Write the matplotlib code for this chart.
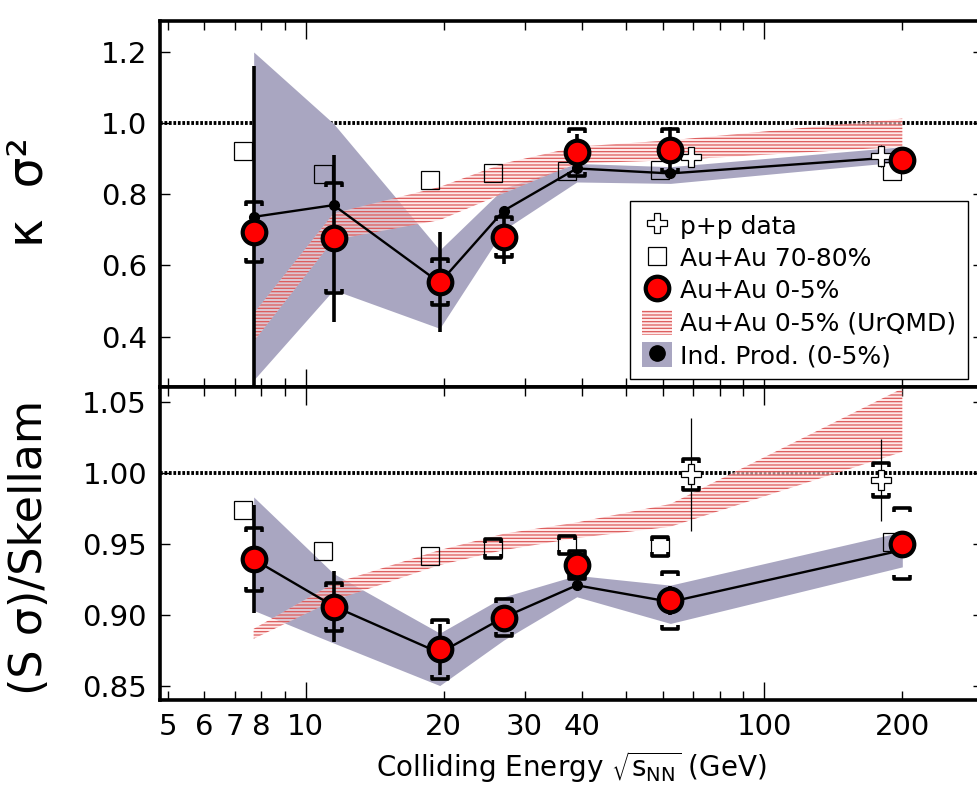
import matplotlib
matplotlib.use("Agg")
import matplotlib.pyplot as plt
from matplotlib.ticker import FixedLocator, FuncFormatter
from matplotlib.lines import Line2D
from matplotlib.patches import Patch
from matplotlib.path import Path
import numpy as np

plt.rcParams['font.family'] = ['DejaVu Sans']
plt.rcParams['hatch.linewidth'] = 0.9

# ---------------- data ----------------
energy = [7.7, 11.5, 19.6, 27, 39, 62.4, 200]
xtick_labels = [5, 6, 7, 8, 10, 20, 30, 40, 100, 200]

# kappa sigma^2 (top panel)
kurt_central = [0.693, 0.676, 0.553, 0.680, 0.918, 0.923, 0.897]
kurt_central_stat = [0.466, 0.235, 0.140, 0.075, 0.050, 0.066, 0.010]
kurt_central_sys = [0.084, 0.155, 0.064, 0.056, 0.066, 0.060, 0.000]
kurt_periph = [0.921, 0.855, 0.839, 0.858, 0.865, 0.867, 0.865]
kurt_indprod = [0.736, 0.769, 0.551, 0.753, 0.872, 0.858, 0.905]
kurt_indprod_lo = [0.278, 0.531, 0.423, 0.699, 0.834, 0.830, 0.891]
kurt_indprod_hi = [1.199, 0.998, 0.643, 0.816, 0.886, 0.877, 0.933]
kurt_urqmd_lo = [0.386, 0.671, 0.727, 0.802, 0.886, 0.895, 0.933]
kurt_urqmd_hi = [0.465, 0.746, 0.820, 0.886, 0.933, 0.951, 1.012]
pp_energy = [62.4, 200]
kurt_pp = [0.905, 0.907]
kurt_pp_stat = [0.010, 0.030]

# S sigma / Skellam (bottom panel)
skel_central = [0.939, 0.9055, 0.8755, 0.8977, 0.935, 0.910, 0.950]
skel_central_stat = [0.038, 0.025, 0.018, 0.008, 0.005, 0.010, 0.008]
skel_central_sys = [0.022, 0.017, 0.021, 0.013, 0.010, 0.020, 0.025]
skel_periph = [0.974, 0.945, 0.9415, 0.9467, 0.949, 0.948, 0.9514]
skel_periph_sys = [0.0, 0.0, 0.0, 0.0065, 0.0065, 0.0065, 0.0]
skel_indprod = [0.939, 0.906, 0.873, 0.898, 0.9207, 0.909, 0.9455]
skel_indprod_lo = [0.903, 0.880, 0.850, 0.882, 0.9126, 0.8938, 0.9337]
skel_indprod_hi = [0.983, 0.929, 0.887, 0.9125, 0.9277, 0.9208, 0.9584]
skel_urqmd_lo = [0.883, 0.910, 0.935, 0.9455, 0.9540, 0.962, 1.0148]
skel_urqmd_hi = [0.890, 0.922, 0.9455, 0.957, 0.9650, 0.978, 1.0595]
skel_pp = [0.999, 0.9948]
skel_pp_stat = [0.040, 0.029]
skel_pp_sys = [0.011, 0.012]

# ---------------- style ----------------
GRAY = '#a9a6c1'
URQ_FACE = (1.0, 0.86, 0.86, 0.6)
URQ_HATCH = '#dc5a5a'
periph_shift = 0.95
pp_shift = [1.11, 0.90]

up_br = Path([(-1, -0.55), (-1, 0), (1, 0), (1, -0.55)],
             [Path.MOVETO, Path.LINETO, Path.LINETO, Path.LINETO])
lo_br = Path([(-1, 0.55), (-1, 0), (1, 0), (1, 0.55)],
             [Path.MOVETO, Path.LINETO, Path.LINETO, Path.LINETO])

fig = plt.figure(figsize=(9.77, 7.94), dpi=100)
ax1 = fig.add_axes([0.1633, 0.5120, 0.8429, 0.4620])
ax2 = fig.add_axes([0.1633, 0.1180, 0.8429, 0.3940])


def brackets(ax, x, y, s, ms=11, z=6):
    x = np.asarray(x); y = np.asarray(y); s = np.asarray(s)
    m = s > 0
    ax.plot(x[m], (y + s)[m], ls='none', marker=up_br, ms=ms, mfc='none',
            mec='k', mew=2.6, zorder=z)
    ax.plot(x[m], (y - s)[m], ls='none', marker=lo_br, ms=ms, mfc='none',
            mec='k', mew=2.6, zorder=z)


def panel(ax, cen, cstat, csys, per, per_sys, ind, ind_lo, ind_hi, u_lo, u_hi,
          pp, pp_stat, pp_sys):
    e = np.asarray(energy)
    ax.axhline(1.0, color='k', lw=2.8, ls=(0, (0.7, 0.45)), zorder=1)
    ax.fill_between(e, ind_lo, ind_hi, color=GRAY, lw=0, zorder=2)
    ax.fill_between(e, u_lo, u_hi, facecolor=URQ_FACE, edgecolor=URQ_HATCH,
                    hatch='-----', lw=0, zorder=3)
    ax.plot(e, ind, color='k', lw=1.7, marker='o', ms=7, zorder=4)
    xs = e * periph_shift
    ax.plot(xs, per, ls='none', marker='s', ms=13.5, mfc='none', mec='k',
            mew=0.9, zorder=5)
    if per_sys is not None:
        brackets(ax, xs, per, per_sys, ms=11, z=5)
    xp = np.asarray(pp_energy) * np.asarray(pp_shift)
    ax.errorbar(xp, pp, yerr=pp_stat, fmt='none', ecolor='k', elinewidth=0.9,
                zorder=5)
    if pp_sys is not None:
        brackets(ax, xp, pp, pp_sys, ms=11, z=5)
    ax.plot(xp, pp, ls='none', marker='P', ms=15, mfc='white', mec='k',
            mew=0.9, zorder=5.5)
    ax.errorbar(e, cen, yerr=cstat, fmt='none', ecolor='k', elinewidth=2.6,
                zorder=6)
    brackets(ax, e, cen, csys, ms=11, z=6)
    ax.plot(e, cen, ls='none', marker='o', ms=17, mfc='red', mec='k',
            mew=3, zorder=7)


panel(ax1, kurt_central, kurt_central_stat, kurt_central_sys, kurt_periph, None,
      kurt_indprod, kurt_indprod_lo, kurt_indprod_hi, kurt_urqmd_lo, kurt_urqmd_hi,
      kurt_pp, kurt_pp_stat, None)
panel(ax2, skel_central, skel_central_stat, skel_central_sys, skel_periph,
      skel_periph_sys, skel_indprod, skel_indprod_lo, skel_indprod_hi,
      skel_urqmd_lo, skel_urqmd_hi, skel_pp, skel_pp_stat, skel_pp_sys)

minor_vals = [5, 6, 7, 8, 9, 20, 30, 40, 50, 60, 70, 80, 90, 200, 300]
for ax in (ax1, ax2):
    ax.set_xscale('log')
    ax.set_xlim(4.8, 300)
    ax.xaxis.set_major_locator(FixedLocator([10, 100]))
    ax.xaxis.set_minor_locator(FixedLocator(minor_vals))
    ax.tick_params(which='both', direction='in', top=True, right=True,
                   width=1.0, labelsize=21, pad=9)
    ax.tick_params(axis='x', which='major', length=13)
    ax.tick_params(axis='x', which='minor', length=6.5)
    ax.tick_params(axis='y', which='major', length=7)
    for sp in ax.spines.values():
        sp.set_linewidth(2.6)

ax1.set_ylim(0.257, 1.287)
ax1.set_yticks([0.4, 0.6, 0.8, 1.0, 1.2])
ax1.yaxis.set_major_formatter(FuncFormatter(lambda v, p: f'{v:.1f}'))
ax1.tick_params(which='both', labelbottom=False)

ax2.set_ylim(0.8396, 1.0602)
ax2.set_yticks([0.85, 0.90, 0.95, 1.00, 1.05])
ax2.yaxis.set_major_formatter(FuncFormatter(lambda v, p: f'{v:.2f}'))

lab_set = set(xtick_labels)
fmt = FuncFormatter(lambda v, p: f'{v:g}' if round(v) in lab_set else '')
ax2.xaxis.set_major_formatter(fmt)
ax2.xaxis.set_minor_formatter(fmt)

ax2.set_xlabel(r'Colliding Energy $\sqrt{\mathrm{s}_{\mathrm{NN}}}$ (GeV)',
               fontsize=20, labelpad=6)

fig.text(0.0287, 0.758, 'κ  σ²', rotation=90, ha='center', va='center',
         fontsize=35)
fig.text(0.0307, 0.310, '(S σ)/Skellam', rotation=90, ha='center',
         va='center', fontsize=32)

# legend
h_pp = Line2D([], [], ls='none', marker='P', ms=14, mfc='white', mec='k', mew=0.9)
h_sq = Line2D([], [], ls='none', marker='s', ms=13, mfc='none', mec='k', mew=0.9)
h_c = Line2D([], [], ls='none', marker='o', ms=17, mfc='red', mec='k', mew=3)
h_u = Patch(facecolor=URQ_FACE, edgecolor=URQ_HATCH, hatch='-----', lw=0)
h_i = (Patch(facecolor=GRAY, lw=0),
       Line2D([], [], ls='none', marker='o', ms=11, color='k'))
leg = ax1.legend([h_pp, h_sq, h_c, h_u, h_i],
                 ['p+p data', 'Au+Au 70-80%', 'Au+Au 0-5%',
                  'Au+Au 0-5% (UrQMD)', 'Ind. Prod. (0-5%)'],
                 loc='upper left', bbox_to_anchor=(0.5716, 0.507),
                 fontsize=18, frameon=True, fancybox=False, framealpha=1,
                 edgecolor='k', borderpad=0.45, handlelength=1.2,
                 handleheight=1.15, handletextpad=0.35, labelspacing=0.26,
                 borderaxespad=0)
leg.get_frame().set_linewidth(1.0)
leg.set_zorder(10)

fig.savefig('out.png', dpi=100)
